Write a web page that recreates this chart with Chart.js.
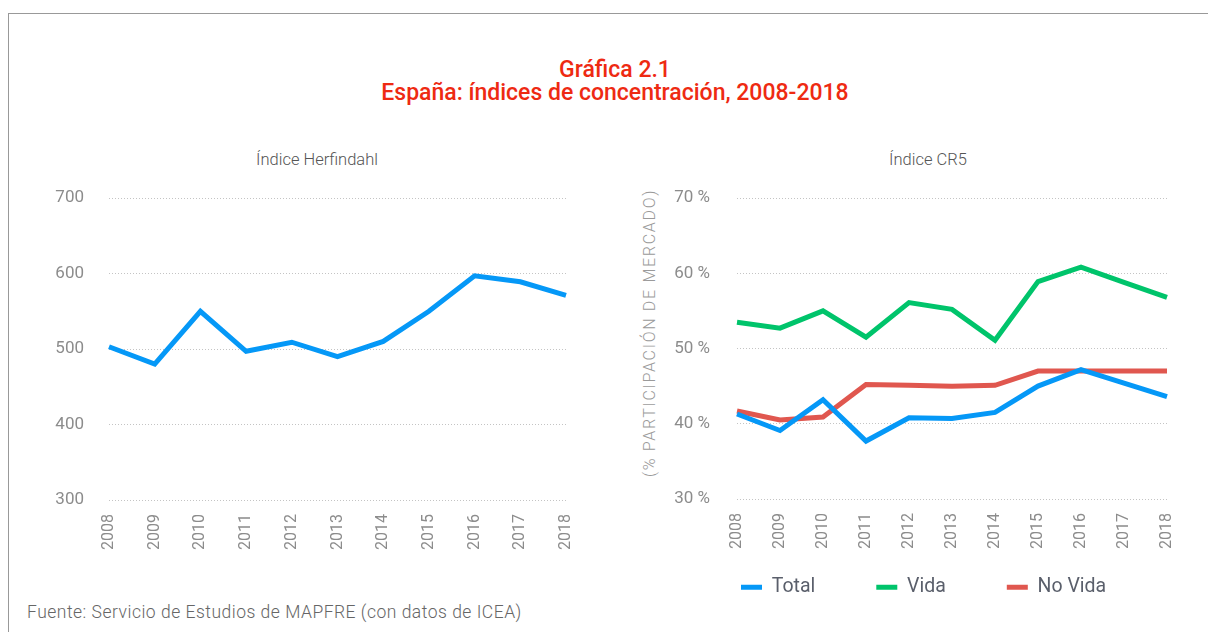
<!DOCTYPE html>
<html>
<head>
<meta charset="utf-8">
<script src="https://cdn.jsdelivr.net/npm/chart.js@4"></script>
<style>
  body { margin: 0; background: #fff; font-family: Roboto, sans-serif; }
  #page { position: relative; width: 1208px; height: 632px; overflow: hidden; }
  #frame { position: absolute; left: 8px; top: 13px; width: 1220px; height: 640px; border: 1px solid #999; box-sizing: border-box; }
  .title { position: absolute; left: 0; width: 1230px; text-align: center; color: #ee2a12; font-size: 23px; font-weight: 500; line-height: 24px; }
  .sub { position: absolute; top: 150px; color: #555; font-size: 16.5px; font-weight: 300; text-align: center; width: 300px; line-height: 20px; }
  #ytitle { position: absolute; left: 650px; top: 333px; transform: translate(-50%, -50%) rotate(-90deg); white-space: nowrap; color: #9a9a9a; font-size: 16px; font-weight: 300; letter-spacing: 1.7px; line-height: 18px; }
  #source { position: absolute; left: 27px; top: 602px; color: #666; font-size: 17.5px; font-weight: 300; letter-spacing: 0.5px; line-height: 20px; }
  canvas { position: absolute; }
</style>
</head>
<body>
<div id="page">
  <div id="frame"></div>
  <div class="title" style="top:58px">Gráfica 2.1</div>
  <div class="title" style="top:81px">España: índices de concentración, 2008-2018</div>
  <div class="sub" style="left:167px">Índice Herfindahl</div>
  <div class="sub" style="left:778px">Índice CR5</div>
  <div id="ytitle">(% PARTICIPACIÓN DE MERCADO)</div>
  <div id="source">Fuente: Servicio de Estudios de MAPFRE (con datos de ICEA)</div>
  <div style="position:absolute;left:30px;top:150px;width:570px;height:400px"><canvas id="chart1"></canvas></div>
  <div style="position:absolute;left:630px;top:150px;width:570px;height:460px"><canvas id="chart2"></canvas></div>
</div>
<script>
const years = ['2008','2009','2010','2011','2012','2013','2014','2015','2016','2017','2018'];
const herfindahl = [503, 480, 550, 497, 509, 490, 510, 550, 597, 589, 571];
const total = [41.3, 39.1, 43.2, 37.7, 40.8, 40.7, 41.5, 45.0, 47.2, 45.4, 43.6];
const vida = [53.5, 52.7, 55.0, 51.5, 56.1, 55.2, 51.1, 58.9, 60.8, 58.8, 56.8];
const noVida = [41.7, 40.5, 40.9, 45.2, 45.1, 45.0, 45.1, 47.0, 47.0, 47.0, 47.0];

const blue = '#0598f7';
const green = '#00c46b';
const red = '#e0574f';
const tickColor = '#8c8c8c';
const gridColor = '#c4c4c4';

Chart.defaults.animation = false;

function xAxis() {
    return {
        grid: { display: false },
        border: { display: false },
        ticks: { color: tickColor, font: { family: 'Roboto', size: 16 }, minRotation: 90, maxRotation: 90, padding: 6, autoSkip: false },
        afterFit: function (scale) { scale.height = 50; }
    };
}

function yAxis(min, max, step, width, pad) {
    return {
        min: min, max: max,
        border: { display: false, dash: [1, 2] },
        grid: { color: gridColor, drawTicks: false, lineWidth: 1 },
        ticks: { stepSize: step, color: tickColor, font: { family: 'Roboto', size: 17 }, padding: pad },
        afterFit: function (scale) { scale.width = width; }
    };
}

// move the legend under the right chart, the way the reference has it
const legendPlace = {
    id: 'legendPlace',
    afterLayout(chart) {
        const lg = chart.legend;
        const w = lg.right - lg.left;
        lg.left = 50;
        lg.right = lg.left + w;
        lg.top = 366.5;
        lg.bottom = lg.top + 100;
    }
};

new Chart(document.getElementById('chart1'), {
    type: 'line',
    data: {
        labels: years,
        datasets: [{ data: herfindahl, borderColor: blue, borderWidth: 5, pointRadius: 0, tension: 0 }]
    },
    options: {
        responsive: true,
        maintainAspectRatio: false,
        layout: { padding: { top: 48, right: 34, left: 0, bottom: 0 } },
        plugins: { legend: { display: false }, tooltip: { enabled: false } },
        scales: {
            x: xAxis(),
            y: yAxis(300, 700, 100, 79, 25)
        }
    }
});

const cr5y = yAxis(30, 70, 10, 107, 27);
cr5y.ticks.callback = function (v) { return v + ' %'; };

new Chart(document.getElementById('chart2'), {
    type: 'line',
    data: {
        labels: years,
        datasets: [
            { label: 'Total', data: total, borderColor: blue, backgroundColor: blue, borderWidth: 5, pointRadius: 0, tension: 0 },
            { label: 'Vida', data: vida, borderColor: green, backgroundColor: green, borderWidth: 5, pointRadius: 0, tension: 0 },
            { label: 'No Vida', data: noVida, borderColor: red, backgroundColor: red, borderWidth: 5, pointRadius: 0, tension: 0 }
        ]
    },
    options: {
        responsive: true,
        maintainAspectRatio: false,
        layout: { padding: { top: 48, right: 33, left: 0, bottom: 31 } },
        plugins: {
            tooltip: { enabled: false },
            legend: {
                position: 'bottom',
                align: 'start',
                maxHeight: 30,
                labels: {
                    color: '#5a5f6b',
                    font: { family: 'Roboto', size: 19.5 },
                    boxWidth: 21,
                    boxHeight: 5,
                    padding: 61,
                    generateLabels: function (chart) {
                        return Chart.defaults.plugins.legend.labels.generateLabels(chart).map(function (l) {
                            l.lineWidth = 0;
                            return l;
                        });
                    }
                }
            }
        },
        scales: {
            x: xAxis(),
            y: cr5y
        }
    },
    plugins: [legendPlace]
});
</script>
</body>
</html>
